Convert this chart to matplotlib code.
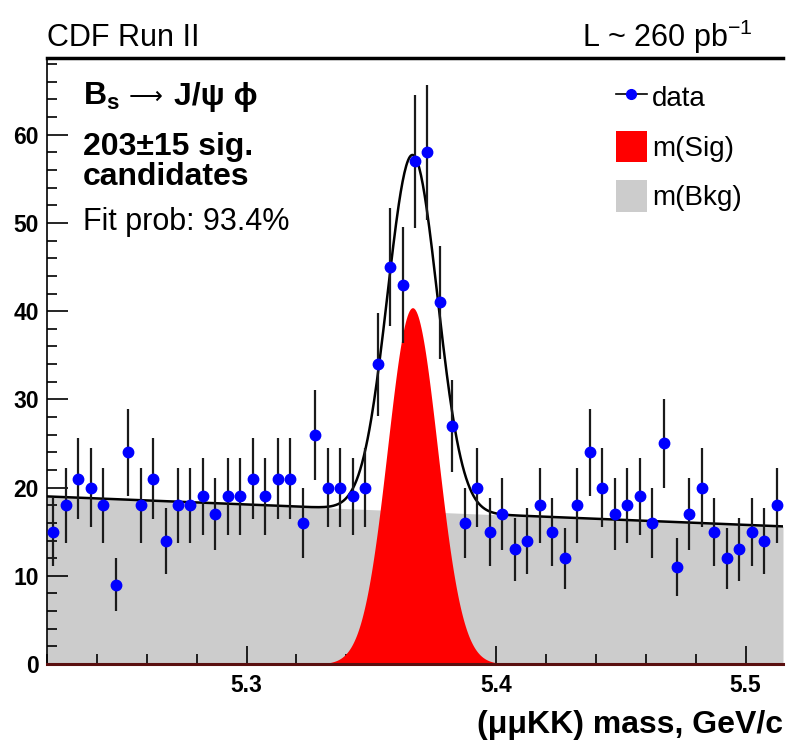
import numpy as np
import matplotlib
matplotlib.use('Agg')
import matplotlib.pyplot as plt
from matplotlib.lines import Line2D
from matplotlib.patches import Patch
from matplotlib.ticker import MultipleLocator, FormatStrFormatter

plt.rcParams['font.family'] = ['Liberation Sans', 'DejaVu Sans']
plt.rcParams['mathtext.fontset'] = 'custom'
plt.rcParams['mathtext.rm'] = 'Liberation Sans'
plt.rcParams['mathtext.bf'] = 'Liberation Sans:bold'

# histogram binning (GeV)
mass_lo, mass_hi, n_bins = 5.22, 5.515, 59
counts = [15, 18, 21, 20, 18, 9, 24, 18, 21, 14,
          18, 18, 19, 17, 19, 19, 21, 19, 21, 21,
          16, 26, 20, 20, 19, 20, 34, 45, 43, 57,
          58, 41, 27, 16, 20, 15, 17, 13, 14, 18,
          15, 12, 18, 24, 20, 17, 18, 19, 16, 25,
          11, 17, 20, 15, 12, 13, 15, 14, 18]

# fit result
sig_peak = 40.4      # candidates per bin at the peak
sig_mean = 5.3665
sig_width = 0.0100
bkg_left = 19.0      # background at mass_lo
bkg_right = 15.6     # background at mass_hi

edges = np.linspace(mass_lo, mass_hi, n_bins + 1)
centers = 0.5 * (edges[:-1] + edges[1:])
counts = np.array(counts, dtype=float)

xf = np.linspace(mass_lo, mass_hi, 800)
bkg = bkg_left + (bkg_right - bkg_left) * (xf - mass_lo) / (mass_hi - mass_lo)
sig = sig_peak * np.exp(-0.5 * ((xf - sig_mean) / sig_width) ** 2)

fig = plt.figure(figsize=(7.87, 7.51), dpi=100)
ax = fig.add_axes([47 / 787, 1 - 664 / 751, 736 / 787, 606 / 751])

ax.fill_between(xf, 0, bkg, color='#cccccc', lw=0, zorder=1)
ax.fill_between(xf, 0, sig, color='#ff0000', lw=0, zorder=2)
ax.plot(xf, bkg + sig, color='k', lw=1.8, zorder=3)
ax.errorbar(centers, counts, yerr=np.sqrt(counts), fmt='o', color='#0000ff',
            ms=7.5, ecolor='#1a1a1a', elinewidth=1.6, capsize=0, zorder=5)

ax.set_xlim(mass_lo, mass_hi)
ax.set_ylim(0, 68.7)

ax.spines['right'].set_visible(False)
ax.spines['top'].set_linewidth(2.5)
ax.spines['left'].set_linewidth(1.2)
ax.spines['bottom'].set_color('#5a0f0f')
ax.spines['bottom'].set_linewidth(2.2)

ax.xaxis.set_major_locator(MultipleLocator(0.1))
ax.xaxis.set_minor_locator(MultipleLocator(0.02))
ax.xaxis.set_major_formatter(FormatStrFormatter('%.1f'))
ax.yaxis.set_major_locator(MultipleLocator(10))
ax.yaxis.set_minor_locator(MultipleLocator(2))

ax.tick_params(which='both', direction='in', top=False, right=False, width=1.2)
ax.tick_params(axis='x', which='major', length=13, pad=7, labelsize=16.5)
ax.tick_params(axis='x', which='minor', length=7)
ax.tick_params(axis='y', which='major', length=15, pad=6, labelsize=16.5)
ax.tick_params(axis='y', which='minor', length=7.5)
plt.setp(ax.get_xticklabels() + ax.get_yticklabels(), fontweight='bold')

# header
fig.text(47 / 787, 1 - 46 / 751, 'CDF Run II', fontsize=22, va='baseline')
fig.text(582 / 787, 1 - 47 / 751, 'L ~ 260 pb$^{-1}$', fontsize=22, va='baseline')

# fit summary
fig.text(83 / 787, 1 - 105 / 751, 'B$_\\mathbf{s}$', fontsize=23,
         fontweight='bold', va='baseline')
fig.text(129 / 787, 1 - 104 / 751, '\u27f6', fontsize=17, family='DejaVu Sans',
         va='baseline')
fig.text(174 / 787, 1 - 105 / 751, 'J/\u03c8 \u03d5', fontsize=23,
         fontweight='bold', va='baseline')
fig.text(83 / 787, 1 - 155 / 751, '203\u00b115 sig.', fontsize=23,
         fontweight='bold', va='baseline')
fig.text(83 / 787, 1 - 185 / 751, 'candidates', fontsize=23,
         fontweight='bold', va='baseline')
fig.text(83 / 787, 1 - 230 / 751, 'Fit prob: 93.4%', fontsize=22, va='baseline')

fig.text(783 / 787, 1 - 733 / 751, '(\u03bc\u03bcKK) mass, GeV/c', fontsize=23,
         fontweight='bold', ha='right', va='baseline')

handles = [Line2D([], [], color='k', lw=1.2, marker='o', mfc='#0000ff',
                  mec='#0000ff', ms=7),
           Patch(facecolor='#ff0000'),
           Patch(facecolor='#cccccc')]
ax.legend(handles, ['data', 'm(Sig)', 'm(Bkg)'], loc='upper left',
          bbox_to_anchor=(616 / 787, 1 - 81 / 751), bbox_transform=fig.transFigure,
          frameon=False, fontsize=20, handlelength=1.1, handleheight=1.37,
          handletextpad=0.2, labelspacing=0.65, borderpad=0, borderaxespad=0)

fig.savefig('out.png', dpi=100)
